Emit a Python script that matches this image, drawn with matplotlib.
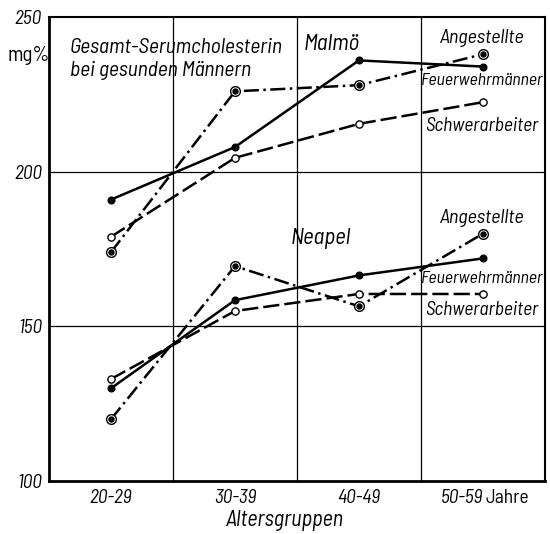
import matplotlib
matplotlib.use("Agg")
import matplotlib.pyplot as plt

# ---- data ----
age_groups = ["20-29", "30-39", "40-49", "50-59"]
yticks = [100, 150, 200, 250]

malmo_feuerwehr = [191, 208, 236, 234]
malmo_angestellte = [174, 226, 228, 238]
malmo_schwer = [179, 204.5, 215.5, 222.5]

neapel_feuerwehr = [130, 158.5, 166.5, 172]
neapel_angestellte = [120, 169.5, 156.5, 180]
neapel_schwer = [133, 155, 160.5, 160.5]

FONT = ['Barlow Semi Condensed', 'DejaVu Sans']
plt.rcParams['font.family'] = FONT

fig = plt.figure(figsize=(5.5, 5.34), dpi=100)
ax = fig.add_axes([0.089, 0.099, 0.902, 0.869])

x = list(range(1, len(age_groups) + 1))
lw = 1.8
dash_style = (0, (6.5, 2.0))
dashdot_style = (0, (6, 1.8, 1.0, 1.8))


def feuer(vals):
    ax.plot(x, vals, color='black', lw=lw, ls='-', marker='o', ms=4.8,
            mfc='black', mec='black', zorder=3)


def schwer(vals):
    ax.plot(x, vals, color='black', lw=lw, ls=dash_style, marker='o', ms=5.2,
            mfc='white', mec='black', mew=1.0, zorder=3)


def angest(vals):
    ax.plot(x, vals, color='black', lw=lw, ls=dashdot_style, marker='o', ms=7,
            mfc='white', mec='black', mew=1.0, zorder=3)
    ax.plot(x, vals, ls='none', marker='o', ms=3.6, mfc='black', mec='black', zorder=4)


for f in (malmo_feuerwehr, neapel_feuerwehr):
    feuer(f)
for s in (malmo_schwer, neapel_schwer):
    schwer(s)
for a in (malmo_angestellte, neapel_angestellte):
    angest(a)

ax.set_xlim(0.5, 4.5)
ax.set_ylim(100, 250)

# grid lines
for gx in (1.5, 2.5, 3.5):
    ax.axvline(gx, color='black', lw=0.9, zorder=1)
for gy in (150, 200):
    ax.axhline(gy, color='black', lw=0.9, zorder=1)

for side in ('left', 'bottom'):
    ax.spines[side].set_linewidth(2.0)
for side in ('top', 'right'):
    ax.spines[side].set_linewidth(1.5)

ax.set_xticks(x)
ax.set_xticklabels(age_groups, fontstyle='italic', fontsize=14)
ax.set_yticks(yticks)
ax.set_yticklabels([str(v) for v in yticks], fontstyle='italic', fontsize=14)
ax.tick_params(length=0)
ax.tick_params(axis='y', pad=5)
ax.tick_params(axis='x', pad=6)
# last tick label is followed by "Jahre"
last = ax.get_xticklabels()[-1]
last.set_horizontalalignment('right')
ax.annotate("Jahre", xy=(x[-1], 0), xycoords=('data', 'axes fraction'),
            xytext=(2, -6), textcoords='offset points',
            fontsize=14, ha='left', va='top', annotation_clip=False)

ax.set_xlabel("Altersgruppen", fontstyle='italic', fontsize=16)
ax.xaxis.set_label_coords(0.475, -0.062)

fig.text(0.052, 0.897, "mg%", fontsize=15, ha='center', va='center')

ax.text(0.67, 240.3, "Gesamt-Serumcholesterin", fontstyle='italic', fontsize=15.5,
        ha='left', va='center')
ax.text(0.67, 232.8, "bei gesunden Männern", fontstyle='italic', fontsize=15.5,
        ha='left', va='center')
ax.text(2.78, 241, "Malmö", fontstyle='italic', fontsize=16.5, ha='center', va='center')
ax.text(2.69, 178.5, "Neapel", fontstyle='italic', fontsize=16.5, ha='center', va='center')

lab_x = 3.99
lab_kw = dict(fontstyle='italic', ha='center', va='center')
ax.text(lab_x, 243.2, "Angestellte", fontsize=14.5, **lab_kw)
ax.text(lab_x, 229.6, "Feuerwehrmänner", fontsize=12.8, **lab_kw)
ax.text(lab_x, 214.7, "Schwerarbeiter", fontsize=14, **lab_kw)
ax.text(lab_x, 185.0, "Angestellte", fontsize=14.5, **lab_kw)
ax.text(lab_x, 165.5, "Feuerwehrmänner", fontsize=12.8, **lab_kw)
ax.text(lab_x, 155.2, "Schwerarbeiter", fontsize=14, **lab_kw)

fig.savefig("out.png", dpi=100)
